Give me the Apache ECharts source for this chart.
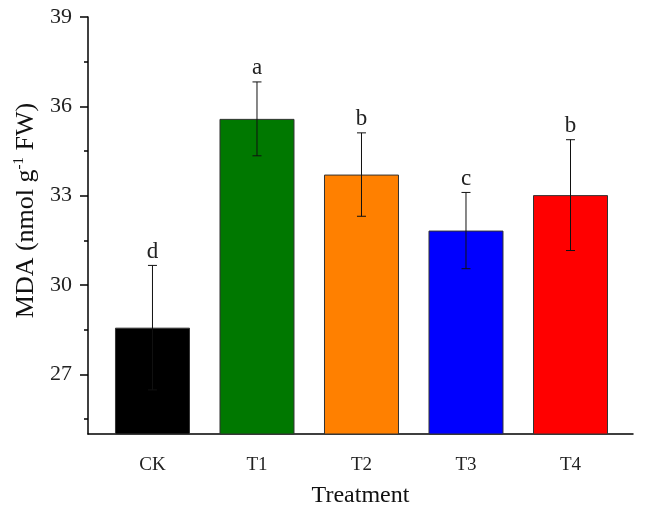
<!DOCTYPE html>
<html lang="en">
<head>
    <meta charset="UTF-8">
    <title>MDA bar chart</title>
    <script src="https://cdn.jsdelivr.net/npm/echarts@6/dist/echarts.min.js"></script>
    <style>
        html, body { margin: 0; padding: 0; background: #fff; }
        #mychart { width: 649px; height: 510px; }
    </style>
</head>
<body>
    <div id="mychart"></div>
</body>
<script>
    // data
    var categories = ['CK', 'T1', 'T2', 'T3', 'T4'];
    var means = [28.57, 35.58, 33.71, 31.83, 33.02];
    var errors = [2.09, 1.24, 1.40, 1.28, 1.86];
    var letters = ['d', 'a', 'b', 'c', 'b'];
    var barColors = ['#000000', '#007800', '#ff8000', '#0000ff', '#ff0000'];
    var yTicks = [27, 30, 33, 36, 39];
    var yMinorTicks = [25.5, 28.5, 31.5, 34.5, 37.5];

    var font = 'Liberation Serif';
    var mychart = echarts.init(document.getElementById('mychart'));

    var barData = categories.map(function (c, i) {
        return { value: [i, means[i]], itemStyle: { color: barColors[i] } };
    });
    var errData = categories.map(function (c, i) {
        return [i, means[i], errors[i]];
    });

    mychart.setOption({
        animation: false,
        grid: { left: 88, right: 16, top: 17, bottom: 76, outerBoundsMode: 'none' },
        xAxis: {
            type: 'value',
            min: -0.617,
            max: 4.598,
            splitLine: { show: false },
            axisTick: { show: false },
            axisLine: { onZero: false, lineStyle: { color: '#000', width: 1.5 } },
            axisLabel: {
                customValues: [0, 1, 2, 3, 4],
                formatter: function (v) { return categories[Math.round(v)]; },
                color: '#222', fontFamily: font, fontSize: 19, margin: 22
            },
            name: 'Treatment',
            nameLocation: 'middle',
            nameGap: 50,
            nameTextStyle: { color: '#111', fontFamily: font, fontSize: 24 }
        },
        yAxis: [{
            type: 'value',
            min: 25,
            max: 39,
            splitLine: { show: false },
            axisLine: { show: true, onZero: false, lineStyle: { color: '#000', width: 1.5 } },
            axisTick: { show: true, customValues: yTicks, length: 8, lineStyle: { color: '#000', width: 1.5 } },
            axisLabel: {
                customValues: yTicks,
                color: '#222', fontFamily: font, fontSize: 22, margin: 16
            },
            name: '{a|MDA (nmol g}{s|-1}{a| FW)}',
            nameLocation: 'middle',
            nameGap: 42,
            nameTextStyle: {
                padding: [0, 0, 0, 30],
                rich: {
                    a: { color: '#111', fontFamily: font, fontSize: 26 },
                    s: { color: '#111', fontFamily: font, fontSize: 15, padding: [0, 0, 14, 0] }
                }
            }
        }, {
            type: 'value',
            position: 'left',
            min: 25,
            max: 39,
            splitLine: { show: false },
            axisLine: { show: false, onZero: false },
            axisLabel: { show: false },
            axisTick: { show: true, customValues: yMinorTicks, length: 4, lineStyle: { color: '#000', width: 1.5 } }
        }],
        series: [{
            type: 'bar',
            barWidth: 75,
            data: barData,
            itemStyle: { borderColor: '#333', borderWidth: 1 }
        }, {
            type: 'custom',
            z: 5,
            data: errData,
            renderItem: function (params, api) {
                var x = api.value(0), m = api.value(1), e = api.value(2);
                var top = api.coord([x, m + e]);
                var bot = api.coord([x, m - e]);
                var cap = 4.5;
                var style = { stroke: '#111', lineWidth: 1 };
                return {
                    type: 'group',
                    children: [
                        { type: 'line', shape: { x1: top[0], y1: top[1], x2: bot[0], y2: bot[1] }, style: style },
                        { type: 'line', shape: { x1: top[0] - cap, y1: top[1], x2: top[0] + cap, y2: top[1] }, style: style },
                        { type: 'line', shape: { x1: bot[0] - cap, y1: bot[1], x2: bot[0] + cap, y2: bot[1] }, style: style },
                        {
                            type: 'text',
                            x: top[0], y: top[1] - 2,
                            style: {
                                text: letters[params.dataIndex],
                                fill: '#222', font: '23px "Liberation Serif"',
                                align: 'center', verticalAlign: 'bottom'
                            }
                        }
                    ]
                };
            }
        }]
    });
</script>
</html>
